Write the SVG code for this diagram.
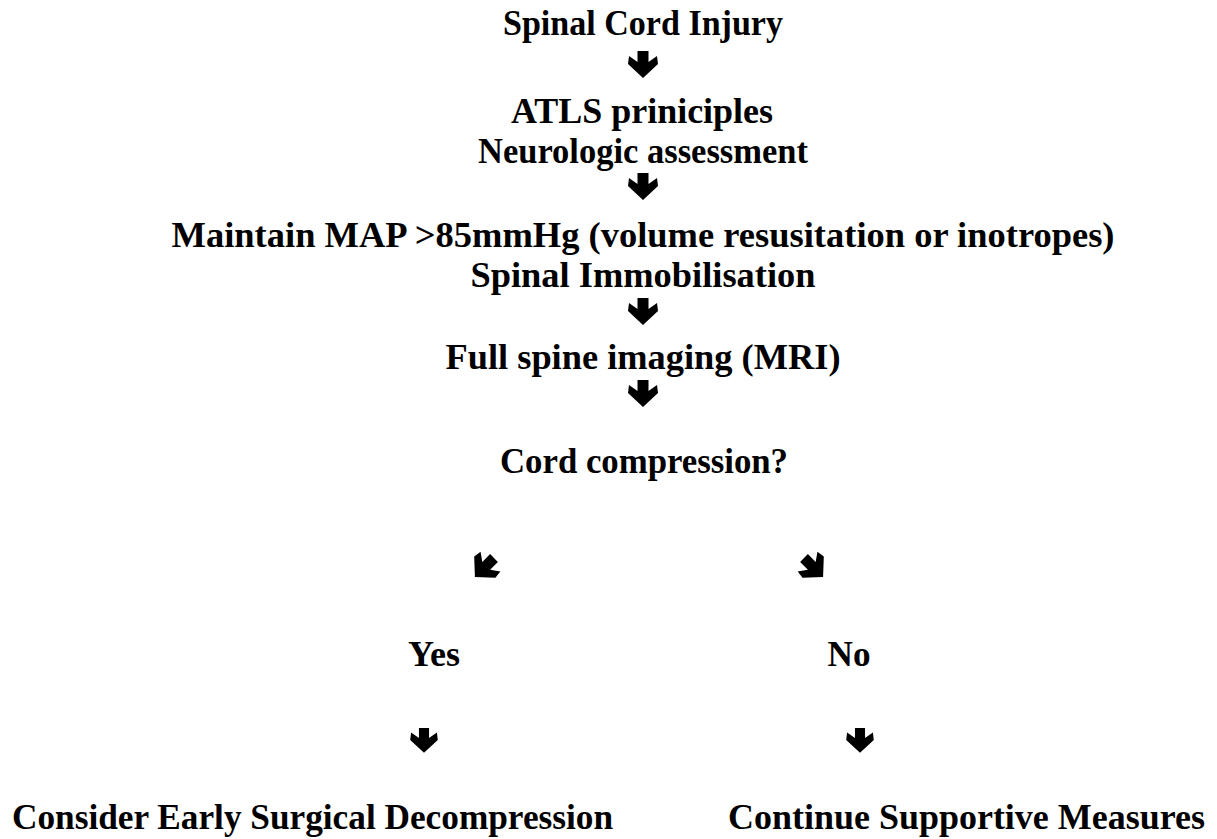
<svg xmlns="http://www.w3.org/2000/svg" width="1217" height="839" viewBox="0 0 1217 839">
<style>
  text { font-family: "Liberation Serif", "Times New Roman", serif; font-weight: bold; font-size: 35px; fill: #000; }
  .c { text-anchor: middle; }
  .arr { fill: #000; }
</style>
<defs>
  <path id="arr" d="M -5.5 0 H 5.5 V 11 L 14 5 L 15 13 L 0 27 L -15 13 L -14 5 L -5.5 11 Z"/>
</defs>
<rect width="1217" height="839" fill="#fff"/>
<g id="connectors" class="arr">
  <use href="#arr" transform="translate(643,51)"/>
  <use href="#arr" transform="translate(643,173)"/>
  <use href="#arr" transform="translate(643,298)"/>
  <use href="#arr" transform="translate(643,380)"/>
  <use href="#arr" transform="translate(494,558) rotate(45)"/>
  <use href="#arr" transform="translate(804,558) rotate(-45)"/>
  <use href="#arr" transform="translate(424,728) scale(0.92)"/>
  <use href="#arr" transform="translate(860,728) scale(0.92)"/>
</g>
<g id="n-sci"><text class="c" x="643" y="35" textLength="280" lengthAdjust="spacingAndGlyphs">Spinal Cord Injury</text></g>
<g id="n-atls">
  <text class="c" x="642" y="123" textLength="262" lengthAdjust="spacingAndGlyphs">ATLS priniciples</text>
  <text class="c" x="643" y="163" textLength="330" lengthAdjust="spacingAndGlyphs">Neurologic assessment</text>
</g>
<g id="n-map">
  <text class="c" x="643" y="247" textLength="943" lengthAdjust="spacingAndGlyphs">Maintain MAP &gt;85mmHg (volume resusitation or inotropes)</text>
  <text class="c" x="643" y="287" textLength="345" lengthAdjust="spacingAndGlyphs">Spinal Immobilisation</text>
</g>
<g id="n-mri"><text class="c" x="643" y="369" textLength="395" lengthAdjust="spacingAndGlyphs">Full spine imaging (MRI)</text></g>
<g id="n-comp"><text class="c" x="644" y="473" textLength="288" lengthAdjust="spacingAndGlyphs">Cord compression?</text></g>
<g id="n-yes"><text class="c" x="434" y="666" textLength="52" lengthAdjust="spacingAndGlyphs">Yes</text></g>
<g id="n-no"><text class="c" x="849" y="666" textLength="43" lengthAdjust="spacingAndGlyphs">No</text></g>
<g id="n-surg"><text x="12" y="829" textLength="601" lengthAdjust="spacingAndGlyphs">Consider Early Surgical Decompression</text></g>
<g id="n-supp"><text x="728" y="829" textLength="477" lengthAdjust="spacingAndGlyphs">Continue Supportive Measures</text></g>
</svg>
